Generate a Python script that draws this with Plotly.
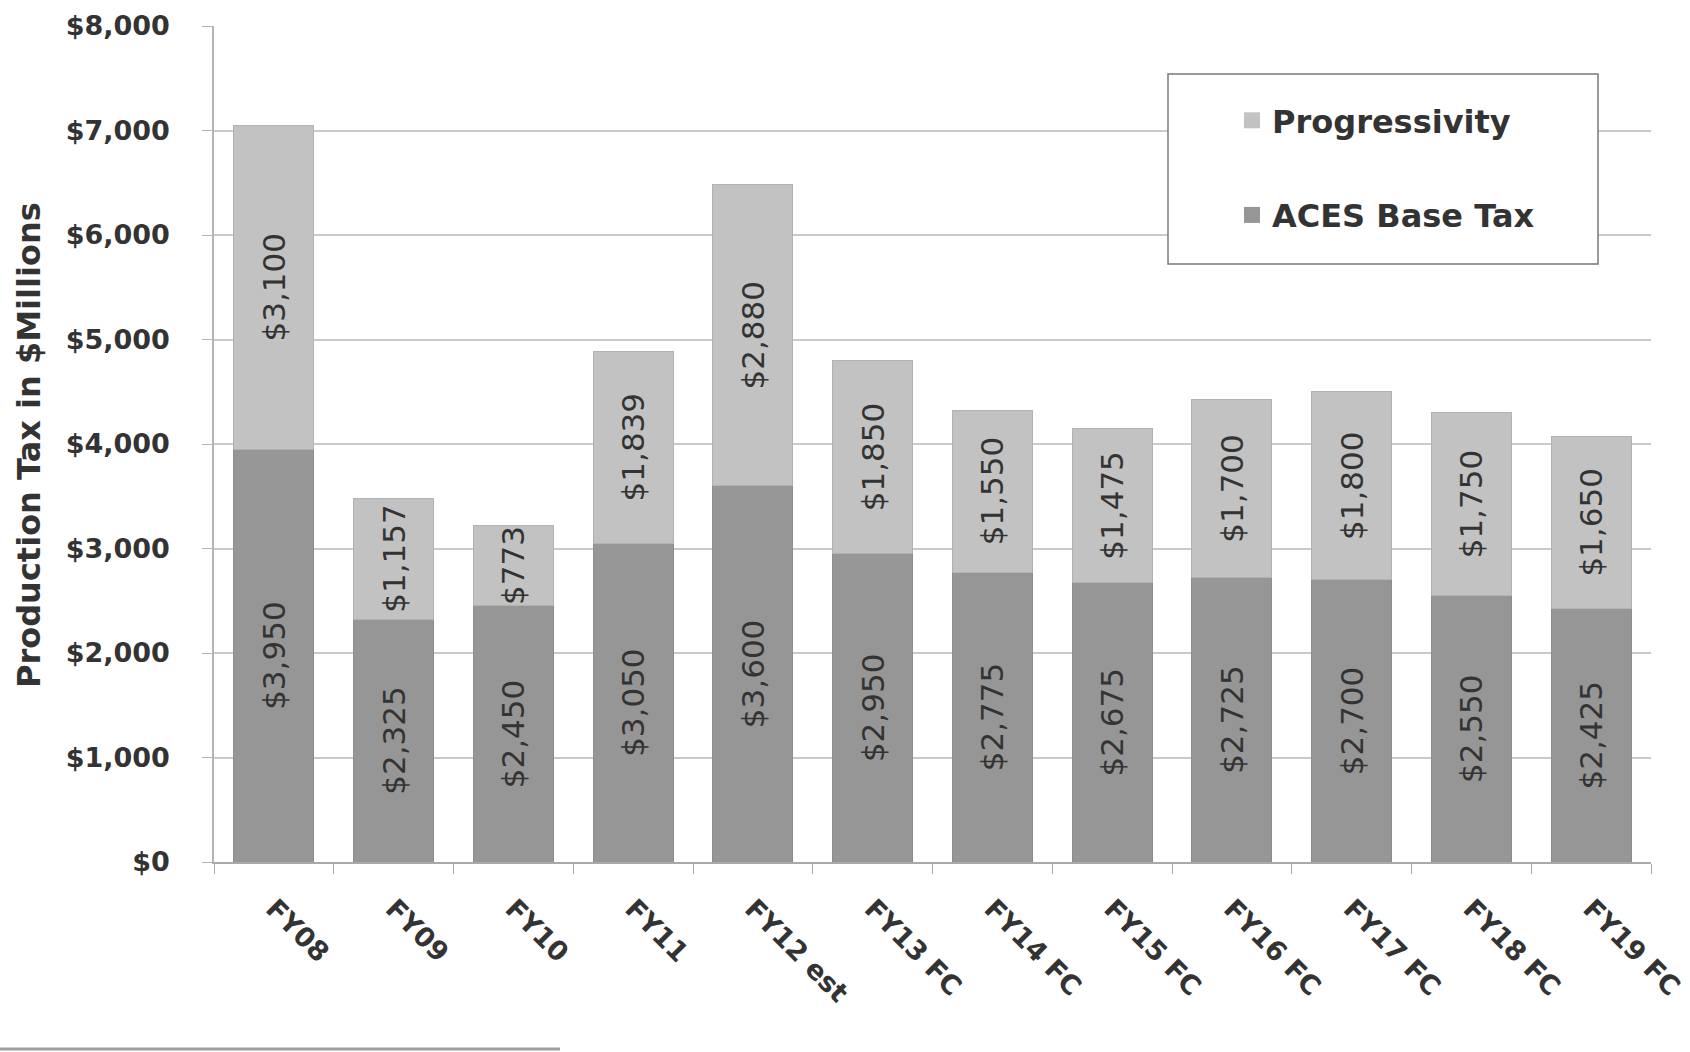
import plotly.graph_objects as go

categories = ["FY08", "FY09", "FY10", "FY11", "FY12 est", "FY13 FC", "FY14 FC",
              "FY15 FC", "FY16 FC", "FY17 FC", "FY18 FC", "FY19 FC"]
aces_base_tax = [3950, 2325, 2450, 3050, 3600, 2950, 2775, 2675, 2725, 2700, 2550, 2425]
progressivity = [3100, 1157, 773, 1839, 2880, 1850, 1550, 1475, 1700, 1800, 1750, 1650]
y_ticks = [0, 1000, 2000, 3000, 4000, 5000, 6000, 7000, 8000]
y_tick_labels = [f"${v:,}" for v in y_ticks]

BASE_COLOR = "#969696"
PROG_COLOR = "#c2c2c2"
TEXT_COLOR = "#333333"
FONT = "DejaVu Sans"

W, H = 1690, 1052
L, R, T, B = 214, 39, 26, 190
PW, PH = W - L - R, H - T - B


def px(x):
    return (x - L) / PW


def py(y):
    return (H - B - y) / PH


fig = go.Figure()
fig.add_trace(go.Bar(
    x=categories, y=aces_base_tax, name="ACES Base Tax",
    marker=dict(color=BASE_COLOR, line=dict(color="#8c8c8c", width=1)),
    text=[f"${v:,}" for v in aces_base_tax], textposition="inside",
    insidetextanchor="middle", textangle=-90,
    textfont=dict(family=FONT, size=31, color=TEXT_COLOR),
    showlegend=False,
))
fig.add_trace(go.Bar(
    x=categories, y=progressivity, name="Progressivity",
    marker=dict(color=PROG_COLOR, line=dict(color="#b2b2b2", width=1)),
    text=[f"${v:,}" for v in progressivity], textposition="inside",
    insidetextanchor="middle", textangle=-90,
    textfont=dict(family=FONT, size=31, color=TEXT_COLOR),
    showlegend=False,
))
# legend entries
fig.add_trace(go.Scatter(
    x=[None], y=[None], mode="markers", name="Progressivity",
    marker=dict(symbol="square", size=22, color=PROG_COLOR),
    legendgroup="p", showlegend=True,
))
fig.add_trace(go.Scatter(
    x=[None], y=[None], mode="markers", name="ACES Base Tax",
    marker=dict(symbol="square", size=22, color=BASE_COLOR),
    legendgroup="b", showlegend=True,
))

fig.update_layout(
    width=W, height=H,
    margin=dict(l=L, r=R, t=T, b=B, autoexpand=False),
    paper_bgcolor="white", plot_bgcolor="white",
    barmode="stack", bargap=0.33,
    uniformtext=dict(minsize=31, mode="show"),
    font=dict(family=FONT, color=TEXT_COLOR),
    showlegend=True,
    legend=dict(
        x=px(1232), y=py(93), xanchor="left", yanchor="top",
        bgcolor="rgba(0,0,0,0)", borderwidth=0,
        font=dict(family=FONT, size=32, color=TEXT_COLOR, weight="bold"),
        traceorder="grouped", tracegroupgap=50, itemsizing="trace",
    ),
    xaxis=dict(
        type="category", tickangle=45, automargin=False,
        tickfont=dict(family=FONT, size=27, color=TEXT_COLOR, weight="bold"),
        showline=True, linecolor="#a9a9a9", linewidth=2,
        ticks="outside", tickson="boundaries", ticklen=10, tickcolor="#a9a9a9",
        ticklabelstandoff=18,
        showgrid=False,
    ),
    yaxis=dict(
        range=[0, 8000], tickvals=y_ticks, ticktext=y_tick_labels, automargin=False,
        tickfont=dict(family=FONT, size=27, color=TEXT_COLOR, weight="bold"),
        showline=True, linecolor="#b5b5b5", linewidth=1.5,
        ticks="outside", ticklen=10, tickcolor="#b5b5b5",
        ticklabelstandoff=27,
        showgrid=True, gridcolor="#c9c9c9", gridwidth=1.5,
        zeroline=False,
    ),
    shapes=[
        dict(type="rect", xref="paper", yref="paper",
             x0=px(1168), x1=px(1598), y0=py(264), y1=py(74),
             line=dict(color="#7a7a7a", width=1.5), fillcolor="white", layer="above"),
        dict(type="line", xref="paper", yref="paper",
             x0=px(0), x1=px(560), y0=py(1049), y1=py(1049),
             line=dict(color="#a0a0a0", width=3)),
    ],
    annotations=[
        dict(text="Production Tax in $Millions", xref="paper", yref="paper",
             x=px(29), y=py(445), xanchor="center", yanchor="middle",
             textangle=-90, showarrow=False,
             font=dict(family=FONT, size=32, color=TEXT_COLOR, weight="bold")),
    ],
)

fig.write_html("out.html")
